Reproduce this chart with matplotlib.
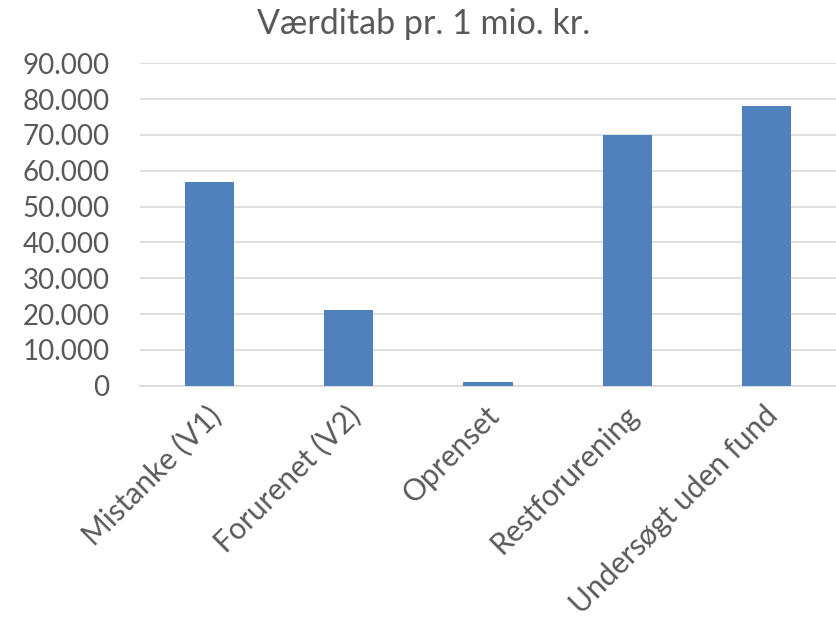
import matplotlib
matplotlib.use("Agg")
import matplotlib.pyplot as plt
from matplotlib.ticker import FuncFormatter, MultipleLocator
from matplotlib.transforms import ScaledTranslation

categories = ["Mistanke (V1)", "Forurenet (V2)", "Oprenset", "Restforurening", "Undersøgt uden fund"]
values = [57000, 21000, 900, 70000, 78000]

plt.rcParams['font.family'] = ['Lato', 'DejaVu Sans']

fig = plt.figure(figsize=(8.37, 6.23), dpi=100)
ax = fig.add_axes([0.1673, 0.3809, 0.8315, 0.5175])

x = range(len(categories))
ax.bar(x, values, width=0.354, color='#4F81BD', zorder=3)

ax.set_xlim(-0.5, len(categories) - 0.5)
ax.set_ylim(0, 90000)
ax.yaxis.set_major_locator(MultipleLocator(10000))
ax.yaxis.set_major_formatter(FuncFormatter(lambda v, p: f"{int(v):,}".replace(",", ".")))
ax.grid(axis='y', color='#d9d9d9', linewidth=1.2, zorder=0)

for s in ['top', 'right', 'left']:
    ax.spines[s].set_visible(False)
ax.spines['bottom'].set_color('#d9d9d9')
ax.spines['bottom'].set_linewidth(1.2)

ax.tick_params(axis='both', length=0, colors='#595959')
ax.tick_params(axis='y', pad=22, labelsize=20)
ax.tick_params(axis='x', labelsize=21.5)
ax.set_xticks(list(x))
ax.set_xticklabels(categories, rotation=45, ha='right', va='top', rotation_mode='anchor')
offset = ScaledTranslation(-0.03, -0.1, fig.dpi_scale_trans)
for lbl in ax.get_xticklabels():
    lbl.set_transform(lbl.get_transform() + offset)

fig.text(0.506, 0.962, "Værditab pr. 1 mio. kr.", ha='center', va='center', fontsize=24.5, color='#595959')

plt.savefig("out.png", dpi=100)
